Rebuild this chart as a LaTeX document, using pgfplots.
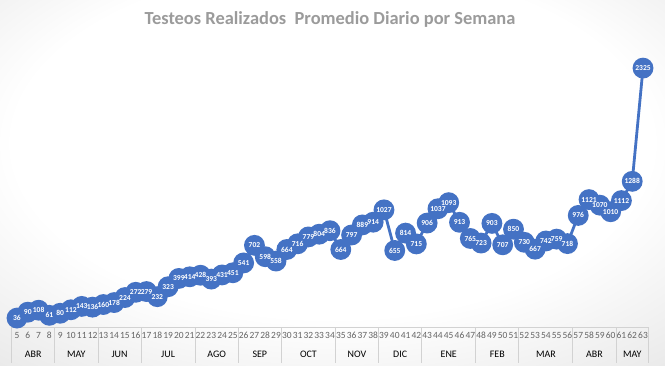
\documentclass[border=0pt]{standalone}
\usepackage{pgfplots}
\usepackage{pgfplotstable}
\pgfplotsset{compat=1.18}
\usepackage{fontspec}
\setmainfont{Carlito}
\definecolor{serie}{RGB}{68,114,196}
\definecolor{titlegray}{RGB}{155,155,155}
\definecolor{ticgray}{RGB}{100,100,100}
\definecolor{mongray}{RGB}{125,125,125}
\definecolor{sepgray}{RGB}{210,210,210}
\pgfdeclareradialshading{bg}{\pgfpoint{0bp}{8bp}}{color(0bp)=(white); color(24bp)=(white); color(50bp)=(black!15); color(75bp)=(black!25)}
\pgfplotstableread{
w v
5 36
6 90
7 108
8 61
9 80
10 112
11 143
12 136
13 160
14 178
15 224
16 272
17 279
18 232
19 323
20 399
21 414
22 428
23 393
24 431
25 451
26 541
27 702
28 598
29 558
30 664
31 716
32 779
33 804
34 836
35 664
36 797
37 889
38 914
39 1027
40 655
41 814
42 715
43 906
44 1037
45 1093
46 913
47 765
48 723
49 903
50 707
51 850
52 730
53 667
54 742
55 759
56 718
57 976
58 1121
59 1070
60 1010
61 1112
62 1288
63 2325
}\tests
\begin{document}
\begin{tikzpicture}[x=1bp,y=1bp]
\shade[shading=bg] (0,0) rectangle (665,365);
\node[font=\fontsize{18.5}{22}\selectfont\bfseries, text=titlegray] at (330,346) {Testeos Realizados\ \ Promedio Diario por Semana};
\begin{axis}[
  at={(11.6bp,43bp)}, anchor=south west,
  scale only axis, width=636.8bp, height=273bp,
  xmin=4.5, xmax=63.5, ymin=0, ymax=2500,
  clip=false,
  axis line style={draw=none},
  tick style={draw=none},
  ytick=\empty,
  xtick={5,...,63},
  xticklabel style={font=\fontsize{9.5}{11}\selectfont, text=ticgray, yshift=-7bp},
  /pgf/number format/1000 sep={},
  /pgf/number format/assume math mode=true,
]
\addplot[serie, line width=2.8bp, mark=*, mark size=9bp, mark options={fill=serie, draw=serie}] table[x=w, y=v] {\tests};
\addplot[draw=none, mark=none, nodes near coords,
  every node near coord/.append style={anchor=center, text=white, font=\fontsize{7.6}{9}\selectfont\bfseries, inner sep=0pt}] table[x=w, y=v] {\tests};
\draw[sepgray, line width=0.8bp] ([yshift=-5bp]axis cs:4.5,0) -- ([yshift=-5bp]axis cs:63.5,0);
\pgfplotsinvokeforeach{4.5,8.5,12.5,16.5,21.5,25.5,29.5,34.5,38.5,42.5,47.5,51.5,56.5,60.5,63.5}{
  \draw[sepgray, line width=0.8bp] ([yshift=-5bp]axis cs:#1,0) -- ([yshift=-41bp]axis cs:#1,0);
}
\pgfplotsset{every node/.append style={font=\fontsize{9}{11}\selectfont, text=mongray}}
\node at ([yshift=-32bp]axis cs:6.5,0) {ABR};
\node at ([yshift=-32bp]axis cs:10.5,0) {MAY};
\node at ([yshift=-32bp]axis cs:14.5,0) {JUN};
\node at ([yshift=-32bp]axis cs:19,0) {JUL};
\node at ([yshift=-32bp]axis cs:23.5,0) {AGO};
\node at ([yshift=-32bp]axis cs:27.5,0) {SEP};
\node at ([yshift=-32bp]axis cs:32,0) {OCT};
\node at ([yshift=-32bp]axis cs:36.5,0) {NOV};
\node at ([yshift=-32bp]axis cs:40.5,0) {DIC};
\node at ([yshift=-32bp]axis cs:45,0) {ENE};
\node at ([yshift=-32bp]axis cs:49.5,0) {FEB};
\node at ([yshift=-32bp]axis cs:54,0) {MAR};
\node at ([yshift=-32bp]axis cs:58.5,0) {ABR};
\node at ([yshift=-32bp]axis cs:62,0) {MAY};
\end{axis}
\end{tikzpicture}
\end{document}
